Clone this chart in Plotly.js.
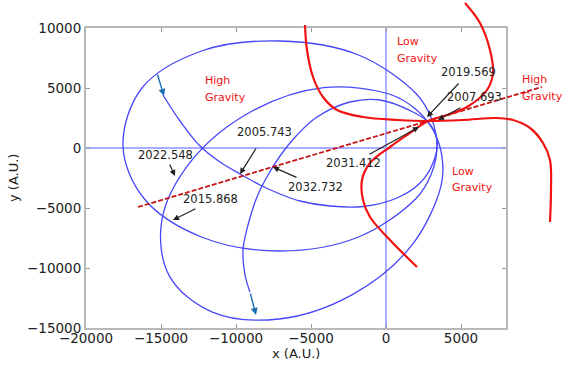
<!DOCTYPE html>
<html>
<head>
<meta charset="utf-8">
<script src="https://cdn.plot.ly/plotly-3.0.1.min.js"></script>
<style>html,body{margin:0;padding:0;background:#fff}#chart{width:570px;height:369px}</style>
</head>
<body>
<div id="chart"></div>
<script>
// ---- data (A.U.) ----
const xTickVals = [-20000, -15000, -10000, -5000, 0, 5000];
const xTickText = ['\u221220000', '\u221215000', '\u221210000', '\u22125000', '0', '5000'];
const yTickVals = [-15000, -10000, -5000, 0, 5000, 10000];
const yTickText = ['\u221215000', '\u221210000', '\u22125000', '0', '5000', '10000'];

// orbit loop 1 (largest)
const orbit1X = [3400, 3040, 2000, -1833, -7067, -12300, -16267, -17533, -16133, -12300, -7067, -1833, 2000, 3040, 3400];
const orbit1Y = [167, 2433, 4542, 7750, 8917, 8083, 5000, 167, -4208, -7417, -8583, -7417, -4208, -2100, 167];
// orbit loop 2 (tilted, lower)
const orbit2X = [3160, 3733, 3667, 1673, -2273, -7127, -11573, -14440, -14947, -12953, -9007, -4153, 293, 1987, 3160];
const orbit2Y = [1458, -725, -3175, -8183, -12242, -14250, -13675, -10675, -6042, -1033, 3025, 5033, 4458, 3225, 1458];
// open orbit path with start / end arrows
const orbit3X = [-14867, -13733, -12400, -11067, -9733, -8400, -7067, -5733, -3733, -1533, 733, 2267, 3133, 3400, 2800,
                 1800, -400, -2400, -4600, -5933, -7067, -7867, -8600, -9200, -9533, -9400, -9067];
const orbit3Y = [4417, 2250, 167, -1167, -2167, -3083, -3833, -4417, -4833, -4875, -4167, -2917, -1250, 667, 2167,
                 3000, 4000, 3833, 2583, 1083, -667, -2250, -4083, -6417, -8500, -10583, -12000];
const startArrow = {tailX: -15267, tailY: 6250, tipX: -14800, tipY: 4333};
const endArrow = {tailX: -9067, tailY: -12000, tipX: -8667, tipY: -13917};

// red gravity curves
const red1X = [-5400, -5267, -4867, -4200, -3267, -1533, 733, 2800, 5133, 7400, 8467, 9600, 10467, 10933, 11000, 10933];
const red1Y = [10250, 8167, 5917, 4250, 3167, 2583, 2333, 2250, 2333, 2500, 2333, 1667, 417, -1000, -3500, -6167];
const red2X = [5267, 6267, 6933, 7133, 6733, 5400, 4067, 2800, 1400, 267, -1067, -1600, -1533, -1067, 267, 2067];
const red2Y = [12083, 10417, 8167, 6250, 4833, 3417, 2750, 2250, 1083, 83, -1250, -2667, -4333, -5750, -7667, -9917];
// dashed axis line
const dashX = [-16533, 10400];
const dashY = [-4917, 5083];

// date labels: text position, arrow tail, arrow tip
const dateText = ['2005.743', '2022.548', '2015.868', '2032.732', '2031.412', '2019.569', '2007.693'];
const dateTextX = [-8133, -14733, -11667, -4667, -2200, 5467, 5867];
const dateTextY = [1333, -583, -4250, -3250, -1250, 6333, 4250];
const dateTailX = [-8600, -14467, -12600, -5867, -1200, 4933, 5067];
const dateTailY = [83, -1250, -5000, -2500, -583, 5500, 3417];
const dateTipX = [-9733, -14067, -14200, -7533, 2200, 2733, 3467];
const dateTipY = [-2167, -2333, -6000, -1583, 1750, 2583, 2333];

// gravity region labels (left edge, line 1 y, line 2 y)
const gravLine1 = ['High', 'Low', 'High', 'Low'];
const gravLine2 = ['Gravity', 'Gravity', 'Gravity', 'Gravity'];
const gravX = [-12200, 600, 8933, 4267];
const gravY1 = [5667, 8917, 5750, -1917];
const gravY2 = [4250, 7500, 4333, -3250];

// ---- build ----
const blue = '#4646fa';
const red = '#f21212';
const traces = [
  {x: orbit1X, y: orbit1Y, mode: 'lines', line: {color: blue, width: 1.3, shape: 'spline', smoothing: 1}, xaxis: 'x2', yaxis: 'y2'},
  {x: orbit2X, y: orbit2Y, mode: 'lines', line: {color: blue, width: 1.3, shape: 'spline', smoothing: 1}, xaxis: 'x2', yaxis: 'y2'},
  {x: orbit3X, y: orbit3Y, mode: 'lines', line: {color: blue, width: 1.3, shape: 'spline', smoothing: 1}, xaxis: 'x2', yaxis: 'y2'},
  {x: dashX, y: dashY, mode: 'lines', line: {color: '#c81414', width: 1.8, dash: '5px,2px'}, xaxis: 'x2', yaxis: 'y2'},
  {x: red1X, y: red1Y, mode: 'lines', line: {color: red, width: 2.2, shape: 'spline', smoothing: 1}, xaxis: 'x2', yaxis: 'y2'},
  {x: red2X, y: red2Y, mode: 'lines', line: {color: red, width: 2.2, shape: 'spline', smoothing: 1}, xaxis: 'x2', yaxis: 'y2'},
  // invisible trace keeps the main axes alive
  {x: [0], y: [0], mode: 'markers', marker: {opacity: 0}, xaxis: 'x', yaxis: 'y', hoverinfo: 'skip'}
];

const ann = [];
for (let i = 0; i < dateText.length; i++) {
  ann.push({x: dateTipX[i], y: dateTipY[i], xref: 'x2', yref: 'y2', ax: dateTailX[i], ay: dateTailY[i], axref: 'x2', ayref: 'y2',
    text: '', showarrow: true, arrowhead: 2, arrowsize: 1, arrowwidth: 1.2, arrowcolor: '#222'});
  ann.push({x: dateTextX[i], y: dateTextY[i], xref: 'x2', yref: 'y2', text: dateText[i], showarrow: false,
    font: {family: 'DejaVu Sans', size: 11.5, color: '#222'}});
}
[startArrow, endArrow].forEach(a => ann.push({x: a.tipX, y: a.tipY, xref: 'x2', yref: 'y2', ax: a.tailX, ay: a.tailY, axref: 'x2', ayref: 'y2',
  text: '', showarrow: true, arrowhead: 2, arrowsize: 1, arrowwidth: 1.4, arrowcolor: '#1f6fb4'}));
for (let i = 0; i < gravX.length; i++) {
  ann.push({x: gravX[i], y: gravY1[i], xref: 'x2', yref: 'y2', xanchor: 'left', text: gravLine1[i], showarrow: false,
    font: {family: 'DejaVu Sans', size: 11, color: red}});
  ann.push({x: gravX[i], y: gravY2[i], xref: 'x2', yref: 'y2', xanchor: 'left', text: gravLine2[i], showarrow: false,
    font: {family: 'DejaVu Sans', size: 11, color: red}});
}
ann.push({x: 296 / 570, y: 1 - 353 / 369, xref: 'paper', yref: 'paper', xanchor: 'center', yanchor: 'middle', text: 'x (A.U.)', showarrow: false,
  font: {family: 'DejaVu Sans', size: 13, color: '#222'}});
ann.push({x: 14 / 570, y: 1 - 178 / 369, xref: 'paper', yref: 'paper', xanchor: 'center', yanchor: 'middle', text: 'y (A.U.)', showarrow: false, textangle: -90,
  font: {family: 'DejaVu Sans', size: 13, color: '#222'}});

const axisCommon = {
  ticks: 'inside', ticklen: 4, tickwidth: 1, tickcolor: '#9a9a9a',
  showline: true, linecolor: '#b8b8b8', linewidth: 2, mirror: 'ticks',
  showgrid: false, zeroline: true, zerolinecolor: '#a9adff', zerolinewidth: 1.6,
  tickfont: {family: 'DejaVu Sans', size: 13.5, color: '#222'}, fixedrange: true
};
const layout = {
  width: 570, height: 369,
  margin: {l: 0, r: 0, t: 0, b: 0},
  paper_bgcolor: '#ffffff', plot_bgcolor: 'rgba(0,0,0,0)',
  showlegend: false,
  xaxis: Object.assign({}, axisCommon, {domain: [86 / 570, 506 / 570], range: [-20000, 8000], tickmode: 'array', tickvals: xTickVals, ticktext: xTickText, anchor: 'y', ticklabelstandoff: -3}),
  yaxis: Object.assign({}, axisCommon, {domain: [41 / 369, 341 / 369], range: [-15000, 10000], tickmode: 'array', tickvals: yTickVals, ticktext: yTickText, anchor: 'x'}),
  xaxis2: {domain: [0, 1], range: [-25733.3, 12266.7], anchor: 'y2', visible: false, fixedrange: true},
  yaxis2: {domain: [0, 1], range: [-18416.7, 12333.3], anchor: 'x2', visible: false, fixedrange: true},
  annotations: ann
};
Plotly.newPlot('chart', traces, layout, {staticPlot: true, displayModeBar: false});
</script>
</body>
</html>
